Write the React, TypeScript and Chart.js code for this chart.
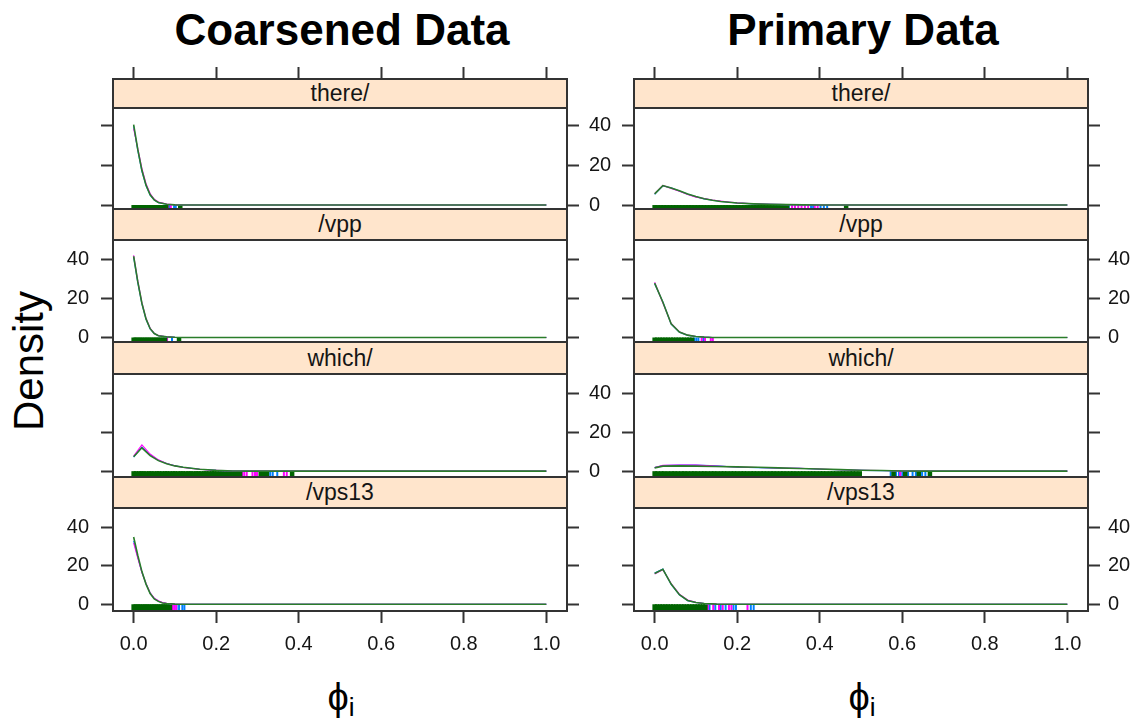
import React, { useEffect, useRef } from "react";
import { Chart, registerables } from "chart.js";

Chart.register(...registerables);

// ---------------- data ----------------
const xTickValues = [0, 0.2, 0.4, 0.6, 0.8, 1.0];
const yTickValues = [0, 20, 40];
const columnTitles = ["Coarsened Data", "Primary Data"];
const stripLabels = ["there/", "/vpp", "which/", "/vps13"];
const xAxisLabel = "ϕ";
const xAxisSub = "i";
const yAxisLabel = "Density";

// Coarsened Data — there/
const coarsenedThereGrid = [0, 0.01, 0.02, 0.03, 0.04, 0.05, 0.06, 0.08, 0.10, 0.12, 1.0];
const coarsenedThereBlue = [39.8, 27.5, 17.0, 9.8, 5.0, 2.5, 1.2, 0.4, 0.1, 0.0, 0.0];
const coarsenedThereMagenta = [38.5, 28.5, 18.5, 10.8, 5.8, 2.9, 1.5, 0.5, 0.1, 0.0, 0.0];
const coarsenedThereGreen = [40.5, 28.0, 17.5, 10.0, 5.2, 2.6, 1.3, 0.4, 0.1, 0.0, 0.0];
const coarsenedThereRugBlue = [0.086, 0.098, 0.102];
const coarsenedThereRugMagenta = [0.083, 0.090];
const coarsenedThereRugGreen = [0.000, 0.004, 0.009, 0.015, 0.020, 0.026, 0.031, 0.037, 0.042, 0.048, 0.053, 0.059, 0.064, 0.070, 0.075, 0.079, 0.113];

// Coarsened Data — /vpp
const coarsenedVppGrid = [0, 0.01, 0.02, 0.03, 0.04, 0.05, 0.06, 0.08, 0.10, 0.12, 1.0];
const coarsenedVppBlue = [41.0, 28.0, 17.2, 9.3, 4.4, 2.0, 0.9, 0.3, 0.1, 0.0, 0.0];
const coarsenedVppMagenta = [42.0, 29.0, 17.8, 9.8, 4.7, 2.1, 1.0, 0.3, 0.1, 0.0, 0.0];
const coarsenedVppGreen = [41.5, 28.5, 17.5, 9.5, 4.5, 2.0, 0.9, 0.3, 0.1, 0.0, 0.0];
const coarsenedVppRugBlue = [0.079, 0.093];
const coarsenedVppRugMagenta = [0.081];
const coarsenedVppRugGreen = [0.000, 0.005, 0.010, 0.016, 0.021, 0.027, 0.032, 0.038, 0.043, 0.049, 0.054, 0.060, 0.065, 0.071, 0.076, 0.110];

// Coarsened Data — which/
const coarsenedWhichGrid = [0, 0.02, 0.04, 0.06, 0.08, 0.10, 0.12, 0.14, 0.16, 0.18, 0.20, 0.24, 0.28, 1.0];
const coarsenedWhichBlue = [7.2, 12.4, 8.4, 5.6, 3.9, 2.8, 2.0, 1.5, 1.0, 0.7, 0.4, 0.1, 0.0, 0.0];
const coarsenedWhichMagenta = [7.8, 13.5, 8.8, 5.8, 3.9, 2.7, 1.9, 1.4, 1.0, 0.6, 0.4, 0.1, 0.0, 0.0];
const coarsenedWhichGreen = [7.4, 12.0, 8.0, 5.4, 3.8, 2.7, 2.0, 1.5, 1.0, 0.7, 0.4, 0.1, 0.0, 0.0];
const coarsenedWhichRugBlue = [0.331, 0.337, 0.348];
const coarsenedWhichRugMagenta = [0.263, 0.268, 0.274, 0.288, 0.294, 0.299, 0.364, 0.371];
const coarsenedWhichRugGreen = [0.000, 0.006, 0.013, 0.019, 0.024, 0.031, 0.038, 0.043, 0.050, 0.057, 0.062, 0.069, 0.076, 0.081, 0.088, 0.095, 0.100, 0.107, 0.114, 0.119, 0.126, 0.133, 0.138, 0.145, 0.152, 0.157, 0.164, 0.171, 0.176, 0.183, 0.190, 0.195, 0.202, 0.209, 0.214, 0.221, 0.228, 0.233, 0.240, 0.247, 0.252, 0.258, 0.308, 0.316, 0.323, 0.384];

// Coarsened Data — /vps13
const coarsenedVps13Grid = [0, 0.01, 0.02, 0.03, 0.04, 0.05, 0.06, 0.07, 0.08, 0.10, 0.12, 1.0];
const coarsenedVps13Blue = [33.0, 24.5, 16.8, 10.6, 5.8, 3.0, 1.6, 0.8, 0.4, 0.1, 0.0, 0.0];
const coarsenedVps13Magenta = [32.0, 24.0, 16.5, 10.8, 6.0, 3.2, 1.8, 0.9, 0.5, 0.1, 0.0, 0.0];
const coarsenedVps13Green = [35.0, 25.5, 17.0, 10.5, 5.6, 2.8, 1.5, 0.7, 0.4, 0.1, 0.0, 0.0];
const coarsenedVps13RugBlue = [0.104, 0.110, 0.118, 0.123];
const coarsenedVps13RugMagenta = [0.093, 0.098, 0.103];
const coarsenedVps13RugGreen = [0.000, 0.005, 0.011, 0.016, 0.022, 0.027, 0.033, 0.038, 0.044, 0.049, 0.055, 0.060, 0.066, 0.071, 0.077, 0.082, 0.088];

// Primary Data — there/
const primaryThereGrid = [0, 0.02, 0.04, 0.06, 0.08, 0.10, 0.12, 0.14, 0.16, 0.18, 0.20, 0.24, 0.28, 0.32, 0.36, 0.40, 0.45, 1.0];
const primaryThereBlue = [5.4, 9.6, 8.7, 7.1, 5.5, 4.2, 3.1, 2.4, 1.8, 1.4, 1.0, 0.6, 0.35, 0.2, 0.1, 0.05, 0.0, 0.0];
const primaryThereMagenta = [5.8, 9.9, 8.4, 7.0, 5.3, 4.0, 3.3, 2.5, 2.0, 1.5, 1.1, 0.65, 0.4, 0.2, 0.1, 0.05, 0.0, 0.0];
const primaryThereGreen = [5.6, 9.8, 8.6, 7.2, 5.6, 4.3, 3.2, 2.4, 1.8, 1.4, 1.0, 0.6, 0.35, 0.2, 0.1, 0.05, 0.0, 0.0];
const primaryThereRugBlue = [0.325, 0.379, 0.384, 0.402, 0.410, 0.418];
const primaryThereRugMagenta = [0.333, 0.340, 0.348, 0.356, 0.364, 0.372, 0.388, 0.395];
const primaryThereRugGreen = [0.000, 0.007, 0.015, 0.022, 0.029, 0.037, 0.045, 0.052, 0.059, 0.067, 0.075, 0.082, 0.089, 0.097, 0.105, 0.112, 0.119, 0.127, 0.135, 0.142, 0.149, 0.157, 0.165, 0.172, 0.179, 0.187, 0.195, 0.202, 0.209, 0.217, 0.225, 0.232, 0.239, 0.247, 0.255, 0.262, 0.269, 0.277, 0.285, 0.292, 0.299, 0.307, 0.315, 0.321, 0.464];

// Primary Data — /vpp
const primaryVppGrid = [0, 0.02, 0.04, 0.06, 0.08, 0.10, 0.12, 0.14, 1.0];
const primaryVppBlue = [27.5, 18.2, 6.8, 2.7, 1.1, 0.5, 0.2, 0.0, 0.0];
const primaryVppMagenta = [28.2, 17.6, 7.2, 2.9, 1.2, 0.5, 0.2, 0.0, 0.0];
const primaryVppGreen = [27.8, 18.0, 7.0, 2.8, 1.2, 0.5, 0.2, 0.0, 0.0];
const primaryVppRugBlue = [0.096, 0.101, 0.106, 0.118];
const primaryVppRugMagenta = [0.114, 0.122, 0.136, 0.141];
const primaryVppRugGreen = [0.000, 0.006, 0.013, 0.019, 0.026, 0.032, 0.039, 0.045, 0.052, 0.058, 0.065, 0.071, 0.078, 0.084, 0.091];

// Primary Data — which/
const primaryWhichGrid = [0, 0.02, 0.06, 0.10, 0.15, 0.20, 0.25, 0.30, 0.35, 0.40, 0.45, 0.50, 0.55, 0.60, 0.65, 1.0];
const primaryWhichBlue = [1.8, 2.9, 3.1, 3.1, 2.8, 2.0, 1.8, 1.5, 1.5, 1.0, 0.7, 0.4, 0.2, 0.1, 0.0, 0.0];
const primaryWhichMagenta = [1.9, 3.0, 3.2, 3.1, 2.6, 2.1, 1.9, 1.6, 1.5, 1.1, 0.7, 0.5, 0.3, 0.1, 0.0, 0.0];
const primaryWhichGreen = [1.7, 2.6, 2.7, 2.6, 2.4, 2.2, 2.0, 1.7, 1.4, 1.1, 0.8, 0.5, 0.3, 0.1, 0.0, 0.0];
const primaryWhichRugBlue = [0.572, 0.585, 0.592, 0.600, 0.614, 0.625, 0.633, 0.648, 0.656];
const primaryWhichRugMagenta = [0.595];
const primaryWhichRugGreen = [0.000, 0.007, 0.016, 0.023, 0.032, 0.041, 0.048, 0.056, 0.065, 0.072, 0.080, 0.089, 0.096, 0.104, 0.113, 0.120, 0.128, 0.137, 0.144, 0.152, 0.161, 0.168, 0.176, 0.185, 0.192, 0.200, 0.209, 0.216, 0.224, 0.233, 0.240, 0.248, 0.257, 0.264, 0.272, 0.281, 0.288, 0.296, 0.305, 0.312, 0.320, 0.329, 0.336, 0.344, 0.353, 0.360, 0.368, 0.377, 0.384, 0.392, 0.401, 0.408, 0.416, 0.425, 0.432, 0.440, 0.449, 0.456, 0.464, 0.473, 0.480, 0.488, 0.497, 0.579, 0.607, 0.640, 0.667];

// Primary Data — /vps13
const primaryVps13Grid = [0, 0.02, 0.04, 0.06, 0.08, 0.10, 0.12, 0.15, 0.18, 1.0];
const primaryVps13Blue = [16.3, 18.4, 10.3, 4.9, 1.9, 0.9, 0.4, 0.1, 0.0, 0.0];
const primaryVps13Magenta = [15.8, 18.0, 10.8, 5.3, 2.2, 1.0, 0.4, 0.1, 0.0, 0.0];
const primaryVps13Green = [16.0, 18.2, 10.5, 5.0, 2.0, 0.9, 0.4, 0.1, 0.0, 0.0];
const primaryVps13RugBlue = [0.133, 0.147, 0.160, 0.172, 0.191, 0.197, 0.233, 0.240];
const primaryVps13RugMagenta = [0.129, 0.142, 0.156, 0.165, 0.180, 0.186, 0.225];
const primaryVps13RugGreen = [0.000, 0.006, 0.013, 0.019, 0.026, 0.032, 0.039, 0.045, 0.052, 0.058, 0.065, 0.071, 0.078, 0.084, 0.091, 0.097, 0.104, 0.110, 0.117, 0.123];

// ---------------- panels (built from the arrays) ----------------
type PanelSpec = {
  col: number;
  row: number;
  grid: number[];
  lines: number[][]; // blue, magenta, green
  rugs: number[][]; // blue, magenta, green
};

const panels: PanelSpec[] = [
  { col: 0, row: 0, grid: coarsenedThereGrid, lines: [coarsenedThereBlue, coarsenedThereMagenta, coarsenedThereGreen], rugs: [coarsenedThereRugBlue, coarsenedThereRugMagenta, coarsenedThereRugGreen] },
  { col: 0, row: 1, grid: coarsenedVppGrid, lines: [coarsenedVppBlue, coarsenedVppMagenta, coarsenedVppGreen], rugs: [coarsenedVppRugBlue, coarsenedVppRugMagenta, coarsenedVppRugGreen] },
  { col: 0, row: 2, grid: coarsenedWhichGrid, lines: [coarsenedWhichBlue, coarsenedWhichMagenta, coarsenedWhichGreen], rugs: [coarsenedWhichRugBlue, coarsenedWhichRugMagenta, coarsenedWhichRugGreen] },
  { col: 0, row: 3, grid: coarsenedVps13Grid, lines: [coarsenedVps13Blue, coarsenedVps13Magenta, coarsenedVps13Green], rugs: [coarsenedVps13RugBlue, coarsenedVps13RugMagenta, coarsenedVps13RugGreen] },
  { col: 1, row: 0, grid: primaryThereGrid, lines: [primaryThereBlue, primaryThereMagenta, primaryThereGreen], rugs: [primaryThereRugBlue, primaryThereRugMagenta, primaryThereRugGreen] },
  { col: 1, row: 1, grid: primaryVppGrid, lines: [primaryVppBlue, primaryVppMagenta, primaryVppGreen], rugs: [primaryVppRugBlue, primaryVppRugMagenta, primaryVppRugGreen] },
  { col: 1, row: 2, grid: primaryWhichGrid, lines: [primaryWhichBlue, primaryWhichMagenta, primaryWhichGreen], rugs: [primaryWhichRugBlue, primaryWhichRugMagenta, primaryWhichRugGreen] },
  { col: 1, row: 3, grid: primaryVps13Grid, lines: [primaryVps13Blue, primaryVps13Magenta, primaryVps13Green], rugs: [primaryVps13RugBlue, primaryVps13RugMagenta, primaryVps13RugGreen] },
];

// ---------------- layout & style ----------------
const FONT = "'Liberation Sans', Arial, Helvetica, sans-serif";
const LINE_COLORS = ["#0080ff", "#ff00ff", "#2a7d2a"];
const LINE_WIDTHS = [1.1, 1.1, 1.6];
const RUG_COLORS = ["#0080ff", "#ff00ff", "#006400"];
const FRAME = "#333333";
const TEXT = "#151515";

const COLS = [
  { left: 113, right: 567, canvasLeft: 0, canvasRight: 620 },
  { left: 634, right: 1088, canvasLeft: 575, canvasRight: 1139 },
];
const ROWS = [
  { stripTop: 79, panelTop: 108, panelBottom: 209, yMin: -2.0, yMax: 48.9 },
  { stripTop: 209, panelTop: 240, panelBottom: 342, yMin: -2.3, yMax: 49.8 },
  { stripTop: 342, panelTop: 374, panelBottom: 477, yMin: -3.0, yMax: 49.9 },
  { stripTop: 477, panelTop: 508, panelBottom: 611, yMin: -3.5, yMax: 50.1 },
];
const X_MIN = -0.05;
const X_MAX = 1.05;
const TOP_PAD = 30;
const BOTTOM_PAD = 60;

const framePlugin = {
  id: "panelFrame",
  afterDatasetsDraw(chart: any) {
    const { ctx, chartArea } = chart;
    ctx.save();
    ctx.strokeStyle = FRAME;
    ctx.lineWidth = 2;
    ctx.strokeRect(chartArea.left, chartArea.top, chartArea.right - chartArea.left, chartArea.bottom - chartArea.top);
    ctx.restore();
  },
};

function Panel({ spec }: { spec: PanelSpec }) {
  const ref = useRef<HTMLCanvasElement | null>(null);
  const col = COLS[spec.col];
  const row = ROWS[spec.row];
  const canvasTop = row.stripTop - TOP_PAD;
  const canvasBottom = row.panelBottom + BOTTOM_PAD;
  const width = col.canvasRight - col.canvasLeft;
  const height = canvasBottom - canvasTop;

  useEffect(() => {
    if (!ref.current) return;
    const ppu = (row.panelBottom - row.panelTop) / (row.yMax - row.yMin);
    const chartYMax = row.yMax + (row.panelTop - row.stripTop) / ppu;
    const isTop = spec.row === 0;
    const isBottom = spec.row === 3;
    const showX = isTop || isBottom;
    const leftLabels = spec.col === 0 && (spec.row === 1 || spec.row === 3);
    const midLabels = spec.col === 0 && (spec.row === 0 || spec.row === 2);
    const rightLabels = spec.col === 1 && (spec.row === 1 || spec.row === 3);

    const datasets: any[] = [];
    // lines: green first (drawn on top)
    [2, 1, 0].forEach((g) => {
      datasets.push({
        label: "density-" + g,
        data: spec.grid.map((x, i) => ({ x, y: spec.lines[g][i] })),
        showLine: true,
        borderColor: LINE_COLORS[g],
        borderWidth: LINE_WIDTHS[g],
        pointRadius: 0,
        tension: 0,
      });
    });
    [2, 1, 0].forEach((g) => {
      datasets.push({
        label: "rug-" + g,
        data: spec.rugs[g].map((x) => ({ x, y: row.yMin / 2 })),
        showLine: false,
        pointStyle: "line",
        pointRotation: 90,
        pointRadius: (ctx: any) => {
          const s = ctx.chart.scales.y;
          return Math.abs(s.getPixelForValue(0) - s.getPixelForValue(row.yMin)) / 2;
        },
        pointBorderColor: RUG_COLORS[g],
        pointBorderWidth: g === 2 ? 4.5 : 2,
        pointBackgroundColor: RUG_COLORS[g],
      });
    });

    const tickFont = { family: FONT, size: 20 };
    const grid = { display: true, drawOnChartArea: false, drawTicks: true, tickLength: 12, tickWidth: 2, tickColor: FRAME };
    const yTicks = (show: boolean, pad: number) => ({
      display: show,
      font: tickFont,
      color: TEXT,
      padding: pad,
      callback: (v: any) => String(v),
    });

    const chart = new Chart(ref.current, {
      type: "scatter",
      data: { datasets },
      options: {
        responsive: false,
        animation: false,
        devicePixelRatio: 1,
        events: [],
        layout: {
          autoPadding: false,
          padding: { top: isTop ? 0 : TOP_PAD, bottom: isBottom ? 0 : BOTTOM_PAD, left: 0, right: 0 },
        },
        plugins: { legend: { display: false }, tooltip: { enabled: false }, title: { display: false } },
        scales: {
          x: {
            type: "linear",
            position: isTop ? "top" : "bottom",
            display: showX,
            min: X_MIN,
            max: X_MAX,
            afterBuildTicks: (s: any) => {
              s.ticks = xTickValues.map((v) => ({ value: v }));
            },
            afterFit: (s: any) => {
              s.height = showX ? (isTop ? TOP_PAD : BOTTOM_PAD) : 0;
              s.paddingLeft = 0;
              s.paddingRight = 0;
            },
            grid,
            border: { display: false },
            ticks: {
              display: isBottom,
              font: tickFont,
              color: TEXT,
              padding: 9,
              maxRotation: 0,
              autoSkip: false,
              callback: (v: any) => Number(v).toFixed(1),
            },
          },
          y: {
            type: "linear",
            position: "left",
            min: row.yMin,
            max: chartYMax,
            afterBuildTicks: (s: any) => {
              s.ticks = yTickValues.map((v) => ({ value: v }));
            },
            afterFit: (s: any) => {
              s.width = col.left - col.canvasLeft;
              s.paddingTop = 0;
              s.paddingBottom = 0;
            },
            grid,
            border: { display: false },
            ticks: yTicks(leftLabels, 12),
          },
          y2: {
            type: "linear",
            position: "right",
            min: row.yMin,
            max: chartYMax,
            afterBuildTicks: (s: any) => {
              s.ticks = yTickValues.map((v) => ({ value: v }));
            },
            afterFit: (s: any) => {
              s.width = col.canvasRight - col.right;
              s.paddingTop = 0;
              s.paddingBottom = 0;
            },
            grid,
            border: { display: false },
            ticks: yTicks(midLabels || rightLabels, spec.col === 0 ? 10 : 8),
          },
        },
      } as any,
      plugins: [framePlugin],
    });
    return () => chart.destroy();
  }, []);

  return (
    <canvas
      ref={ref}
      width={width}
      height={height}
      style={{ position: "absolute", left: col.canvasLeft, top: canvasTop, width, height }}
    />
  );
}

function Strip({ spec }: { spec: PanelSpec }) {
  const col = COLS[spec.col];
  const row = ROWS[spec.row];
  return (
    <div
      style={{
        position: "absolute",
        left: col.left - 1,
        top: row.stripTop - 1,
        width: col.right - col.left + 2,
        height: row.panelTop - row.stripTop + 2,
        boxSizing: "border-box",
        border: `2px solid ${FRAME}`,
        background: "#ffe5cc",
        display: "flex",
        alignItems: "center",
        justifyContent: "center",
        fontFamily: FONT,
        fontSize: 23,
        color: TEXT,
        lineHeight: 1,
      }}
    >
      {stripLabels[spec.row]}
    </div>
  );
}

export default function App() {
  return (
    <div
      style={{
        position: "absolute",
        left: 0,
        top: 0,
        width: 1139,
        height: 722,
        background: "#ffffff",
        overflow: "hidden",
        fontFamily: FONT,
      }}
    >
      {columnTitles.map((t, i) => (
        <div
          key={t}
          style={{
            position: "absolute",
            left: (COLS[i].left + COLS[i].right) / 2 + 2,
            top: 8,
            transform: "translateX(-50%)",
            fontSize: 44,
            fontWeight: "bold",
            lineHeight: "44px",
            whiteSpace: "nowrap",
            color: "#000",
          }}
        >
          {t}
        </div>
      ))}
      <div
        style={{
          position: "absolute",
          left: 28.5,
          top: 360.5,
          transform: "translate(-50%, -50%) rotate(-90deg)",
          fontSize: 42,
          lineHeight: "42px",
          whiteSpace: "nowrap",
          color: "#000",
        }}
      >
        {yAxisLabel}
      </div>
      {COLS.map((c, i) => (
        <div
          key={"xl" + i}
          style={{
            position: "absolute",
            left: (c.left + c.right) / 2 + 1,
            top: 678,
            transform: "translateX(-50%)",
            fontSize: 38,
            lineHeight: "38px",
            whiteSpace: "nowrap",
            color: "#000",
          }}
        >
          {xAxisLabel}
          <sub style={{ fontSize: 26, verticalAlign: "-6px", lineHeight: 0 }}>{xAxisSub}</sub>
        </div>
      ))}
      {panels.map((p) => (
        <Panel key={`p${p.col}-${p.row}`} spec={p} />
      ))}
      {panels.map((p) => (
        <Strip key={`s${p.col}-${p.row}`} spec={p} />
      ))}
    </div>
  );
}
